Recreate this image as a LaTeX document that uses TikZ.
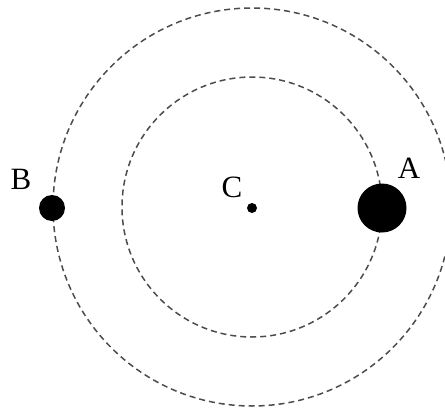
\documentclass[tikz,border=0pt]{standalone}
\usepackage{fontspec}
\setmainfont{Liberation Serif}
\begin{document}
\begin{tikzpicture}[x=1pt,y=-1pt,
  orbit/.style={draw=black!70,line width=1.5pt,dash pattern=on 6pt off 4pt},
  body/.style={circle,fill=black,inner sep=0pt},
  lbl/.style={font=\fontsize{31}{34}\selectfont,inner sep=0pt}]
\useasboundingbox (0,0) rectangle (445,410);
\clip (0,0) rectangle (445,410);
\coordinate (c0) at (252,207);
\draw[orbit] (c0) circle[radius=199];
\draw[orbit] (c0) circle[radius=130];
\node[body,minimum size=10pt] (C) at (252,208) {};
\node[body,minimum size=26pt] (B) at (52,208) {};
\node[body,minimum size=49pt] (A) at (382,208) {};
\node[lbl] (lA) at (409,168) {A};
\node[lbl] (lB) at (21,179) {B};
\node[lbl] (lC) at (232,187) {C};
\end{tikzpicture}
\end{document}
